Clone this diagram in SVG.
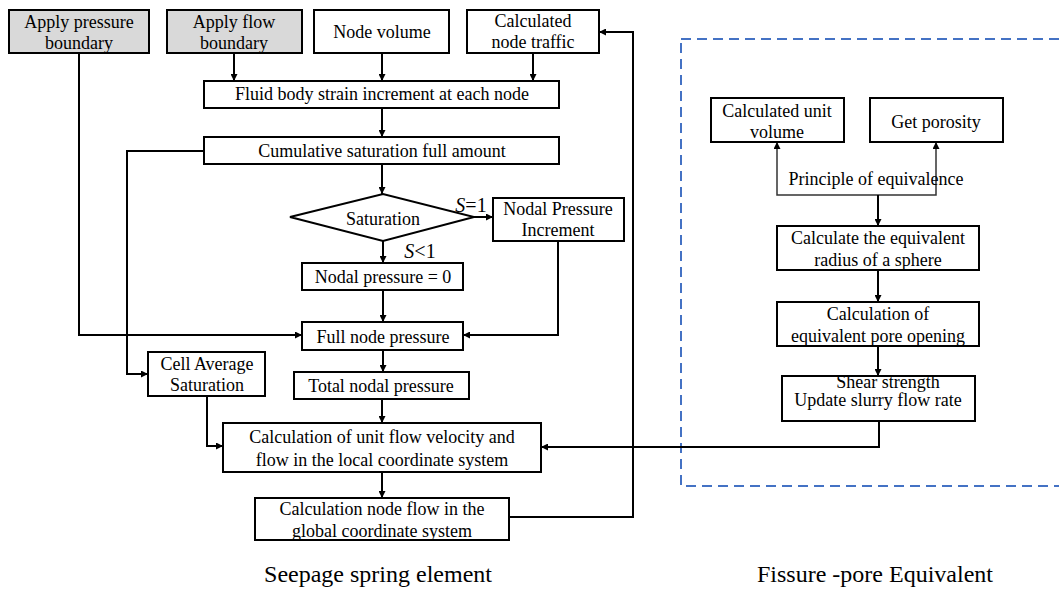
<svg xmlns="http://www.w3.org/2000/svg" width="1059" height="590" viewBox="0 0 1059 590">
<style>
.b{fill:#fff;stroke:#000;stroke-width:2}
.g{fill:#d9d9d9;stroke:#000;stroke-width:2}
text{font-family:"Liberation Serif","Times New Roman",serif;font-size:18px;fill:#000;text-anchor:middle}
.t{font-size:24px}
.c{fill:none;stroke:#000;stroke-width:2}
.c2{fill:none;stroke:#333;stroke-width:1.5}
</style>
<defs>
<marker id="a" viewBox="0 0 10 10" refX="10" refY="5" markerWidth="7" markerHeight="7" markerUnits="userSpaceOnUse" orient="auto"><path d="M0,0 L10,5 L0,10 z" fill="#000"/></marker>
</defs>
<rect x="681" y="39" width="400" height="447" fill="none" stroke="#4472C4" stroke-width="2" stroke-dasharray="10 6"/>
<g id="connectors">
<path class="c" d="M234,53 V81" marker-end="url(#a)"/>
<path class="c" d="M382,53 V81" marker-end="url(#a)"/>
<path class="c" d="M533,53 V81" marker-end="url(#a)"/>
<path class="c" d="M382,108 V137" marker-end="url(#a)"/>
<path class="c" d="M382,164 V194" marker-end="url(#a)"/>
<path class="c" d="M474,217 H493" marker-end="url(#a)"/>
<path class="c" d="M383,241 V263" marker-end="url(#a)"/>
<path class="c" d="M383,290 V322" marker-end="url(#a)"/>
<path class="c" d="M558,241 V335 H463" marker-end="url(#a)"/>
<path class="c" d="M79,53 V335 H302" marker-end="url(#a)"/>
<path class="c" d="M204,151 H127 V374 H148" marker-end="url(#a)"/>
<path class="c" d="M383,350 V372" marker-end="url(#a)"/>
<path class="c" d="M382,399 V423" marker-end="url(#a)"/>
<path class="c" d="M207,396 V446 H223" marker-end="url(#a)"/>
<path class="c" d="M382,472 V498" marker-end="url(#a)"/>
<path class="c" d="M509,517 H633 V32 H599" marker-end="url(#a)"/>
<path class="c" d="M879,421 V447 H541" marker-end="url(#a)"/>
<path class="c2" d="M878,195 H777 V142" marker-end="url(#a)"/>
<path class="c2" d="M878,195 H936 V142" marker-end="url(#a)"/>
<path class="c" d="M878,195 V226" marker-end="url(#a)"/>
<path class="c" d="M878,270 V302" marker-end="url(#a)"/>
<path class="c" d="M878,346 V376" marker-end="url(#a)"/>
</g>
<g id="n-pressure"><rect class="g" x="9" y="10" width="140" height="43"/><text x="79" y="28">Apply pressure</text><text x="79" y="49">boundary</text></g>
<g id="n-flow"><rect class="g" x="167" y="10" width="135" height="43"/><text x="234" y="28">Apply flow</text><text x="234" y="49">boundary</text></g>
<g id="n-volume"><rect class="b" x="314" y="10" width="135" height="43"/><text x="382" y="38">Node volume</text></g>
<g id="n-traffic"><rect class="b" x="467" y="10" width="132" height="43"/><text x="533" y="27">Calculated</text><text x="533" y="48">node traffic</text></g>
<g id="n-fluid"><rect class="b" x="204" y="81" width="355" height="27"/><text x="382" y="100">Fluid body strain increment at each node</text></g>
<g id="n-cumul"><rect class="b" x="204" y="137" width="355" height="27"/><text x="382" y="157">Cumulative saturation full amount</text></g>
<g id="n-sat"><path class="b" d="M290,217 L383,194 L474,217 L383,241 Z"/><text x="383" y="225">Saturation</text></g>
<g id="l-s1"><text x="471" y="212" style="font-size:20px"><tspan font-style="italic">S</tspan>=1</text></g>
<g id="l-s2"><text x="420" y="258" style="font-size:20px"><tspan font-style="italic">S</tspan>&lt;1</text></g>
<g id="n-npi"><rect class="b" x="493" y="198" width="131" height="43"/><text x="558" y="215">Nodal Pressure</text><text x="558" y="236">Increment</text></g>
<g id="n-np0"><rect class="b" x="302" y="263" width="161" height="27"/><text x="383" y="283">Nodal pressure = 0</text></g>
<g id="n-full"><rect class="b" x="302" y="322" width="161" height="28"/><text x="383" y="343">Full node pressure</text></g>
<g id="n-cell"><rect class="b" x="148" y="352" width="117" height="44"/><text x="207" y="370">Cell Average</text><text x="207" y="391">Saturation</text></g>
<g id="n-total"><rect class="b" x="294" y="372" width="175" height="27"/><text x="381" y="392">Total nodal pressure</text></g>
<g id="n-unit"><rect class="b" x="223" y="423" width="318" height="49"/><text x="382" y="443">Calculation of unit flow velocity and</text><text x="382" y="466">flow in the local coordinate system</text></g>
<g id="n-global"><rect class="b" x="255" y="498" width="254" height="42"/><text x="382" y="515">Calculation node flow in the</text><text x="382" y="537">global coordinate system</text></g>
<g id="n-unitvol"><rect class="b" x="711" y="98" width="133" height="44"/><text x="777" y="117">Calculated unit</text><text x="777" y="138">volume</text></g>
<g id="n-poro"><rect class="b" x="870" y="98" width="133" height="44"/><text x="936" y="128">Get porosity</text></g>
<g id="l-equiv"><text x="876" y="185">Principle of equivalence</text></g>
<g id="n-radius"><rect class="b" x="777" y="226" width="202" height="44"/><text x="878" y="244">Calculate the equivalent</text><text x="878" y="266">radius of a sphere</text></g>
<g id="n-pore"><rect class="b" x="777" y="302" width="202" height="44"/><text x="878" y="320">Calculation of</text><text x="878" y="342">equivalent pore opening</text></g>
<g id="n-shear"><rect class="b" x="782" y="376" width="193" height="45"/><text x="888" y="388">Shear strength</text><text x="878" y="406">Update slurry flow rate</text></g>
<text class="t" x="378" y="582">Seepage spring element</text>
<text class="t" x="875" y="582">Fissure -pore Equivalent</text>
</svg>
